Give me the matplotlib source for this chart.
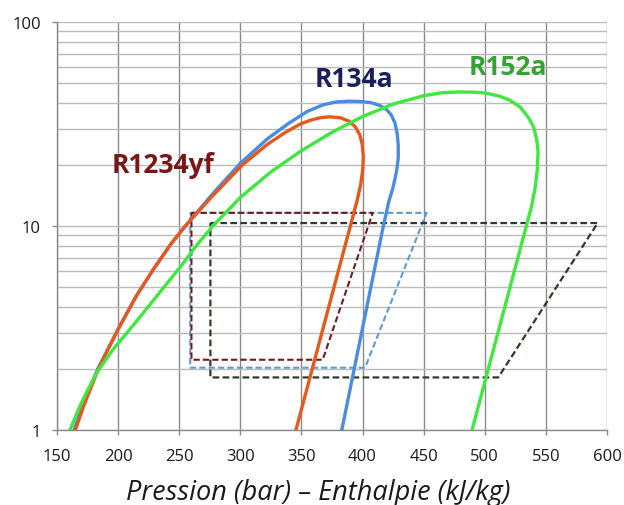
import matplotlib
matplotlib.use("Agg")
import matplotlib.pyplot as plt
from matplotlib.ticker import FixedLocator, NullFormatter, LogLocator

# ---------------- data (enthalpy kJ/kg, pressure bar) ----------------
r1234yf_h = [165, 172, 184, 200, 215, 229, 243, 255, 277.5, 302, 322, 337, 349, 358, 366, 373,
             382, 389, 394, 397.8, 399.8, 400.6, 400.2, 398.5, 395.5, 390, 345.5]
r1234yf_p = [1.0, 1.32, 2.0, 3.12, 4.55, 6.15, 8.13, 10.0, 14.1, 20.0, 25.1, 28.8, 31.6, 33.1, 34.0, 34.3,
             33.9, 32.6, 30.7, 28.0, 25.0, 22.0, 19.0, 16.0, 13.3, 10.0, 1.0]

r134a_h = [164, 171, 183.5, 200, 215, 229, 243, 255, 277, 300, 322, 340, 355, 368, 378, 388,
           398, 407, 414, 419.5, 423.5, 426.5, 428.3, 429.2, 429.2, 427.8, 425, 421.5, 417, 383]
r134a_p = [1.0, 1.32, 2.0, 3.12, 4.55, 6.15, 8.13, 10.0, 14.3, 20.3, 26.7, 32.0, 36.5, 39.3, 40.5, 40.9,
           40.8, 40.2, 39.0, 37.3, 35.0, 32.0, 28.5, 25.0, 21.5, 18.5, 15.5, 13.2, 10.0, 1.0]

r152a_h = [160.6, 169, 175.5, 183.5, 196.5, 210.5, 224, 237.5, 251, 263.5, 277.5, 300, 325, 350, 375,
           400, 425, 450, 465, 478, 490, 500, 512, 520, 529, 536, 540, 542.5, 543.6, 543, 541.3,
           538.3, 534, 489.6]
r152a_p = [1.0, 1.318, 1.585, 1.95, 2.51, 3.16, 3.98, 5.01, 6.31, 7.94, 10.0, 13.8, 18.4, 23.4, 28.8,
           34.4, 39.6, 43.5, 45.0, 45.4, 45.3, 44.9, 43.3, 41.5, 38.3, 33.8, 30.5, 26.5, 23.0, 19.0, 15.5,
           12.5, 10.0, 1.0]

cyc_1234yf_h = [260, 408.3, 367.4, 260, 260]
cyc_1234yf_p = [11.6, 11.6, 2.21, 2.21, 11.6]
cyc_134a_h = [259, 452.4, 402, 259, 259]
cyc_134a_p = [11.6, 11.6, 2.02, 2.02, 11.6]
cyc_152a_h = [275.5, 592.4, 511, 275.5, 275.5]
cyc_152a_p = [10.34, 10.34, 1.81, 1.81, 10.34]

x_ticks = [150, 200, 250, 300, 350, 400, 450, 500, 550, 600]
y_ticks = [1, 10, 100]
y_tick_labels = ["1", "10", "100"]

labels = ["R1234yf", "R134a", "R152a"]
label_pos = [(236.7, 20.1), (393, 52.6), (519, 60.2)]
xlabel = "Pression (bar) \u2013 Enthalpie (kJ/kg)"

# ---------------- style ----------------
plt.rcParams['font.family'] = ['Open Sans', 'DejaVu Sans']

fig = plt.figure(figsize=(6.24, 5.06), dpi=100)
ax = fig.add_axes([57/624, 1-431/506, 550/624, 408/506])

ax.set_yscale('log')
ax.set_xlim(150, 600)
ax.set_ylim(1, 100)

ax.xaxis.set_major_locator(FixedLocator(x_ticks))
ax.set_xticklabels([str(v) for v in x_ticks])
ax.yaxis.set_major_locator(FixedLocator(y_ticks))
ax.set_yticklabels(y_tick_labels)
ax.yaxis.set_minor_locator(LogLocator(base=10, subs=range(2, 10)))
ax.yaxis.set_minor_formatter(NullFormatter())

ax.grid(True, axis='x', which='major', color='#8a8a8a', lw=1.0)
ax.grid(True, axis='y', which='both', color='#bcbcbc', lw=1.0)
ax.set_axisbelow(True)

for s in ['top', 'right']:
    ax.spines[s].set_visible(False)
for s in ['left', 'bottom']:
    ax.spines[s].set_color('#8a8a8a')
    ax.spines[s].set_linewidth(1.0)

ax.tick_params(axis='both', which='major', length=3.6, width=1, color='#8a8a8a',
               labelsize=12, labelcolor='#1a1a1a')
ax.tick_params(axis='x', which='major', pad=9.5)
ax.tick_params(axis='y', which='major', pad=8)
ax.tick_params(axis='y', which='minor', length=0)

# cycles (dashed)
ax.plot(cyc_134a_h, cyc_134a_p, color='#5b9bd5', lw=1.5, dashes=(3, 1.5), zorder=3)
ax.plot(cyc_1234yf_h, cyc_1234yf_p, color='#6e1c1c', lw=1.5, dashes=(3, 1.5), zorder=3)
ax.plot(cyc_152a_h, cyc_152a_p, color='#2e3b2a', lw=1.6, dashes=(3, 1.5), zorder=3)

# saturation domes
ax.plot(r134a_h, r134a_p, color='#4a8de0', lw=2.4, zorder=4, solid_joinstyle='round')
ax.plot(r1234yf_h, r1234yf_p, color='#e8581c', lw=2.4, zorder=5, solid_joinstyle='round')
ax.plot(r152a_h, r152a_p, color='#3ee83e', lw=2.4, zorder=6, solid_joinstyle='round')

label_colors = ['#7a1616', '#1a1f5c', '#33a333']
for txt, (lx, ly), c in zip(labels, label_pos, label_colors):
    ax.text(lx, ly, txt, color=c, fontsize=19, fontweight='bold', ha='center', va='center',
            zorder=7)

fig.text(0.5 * (124 + 512) / 624, 1 - 500/506, xlabel, ha='center', va='baseline',
         fontsize=19.5, style='italic', color='#1a1a1a')

fig.savefig('out.png', dpi=100)
